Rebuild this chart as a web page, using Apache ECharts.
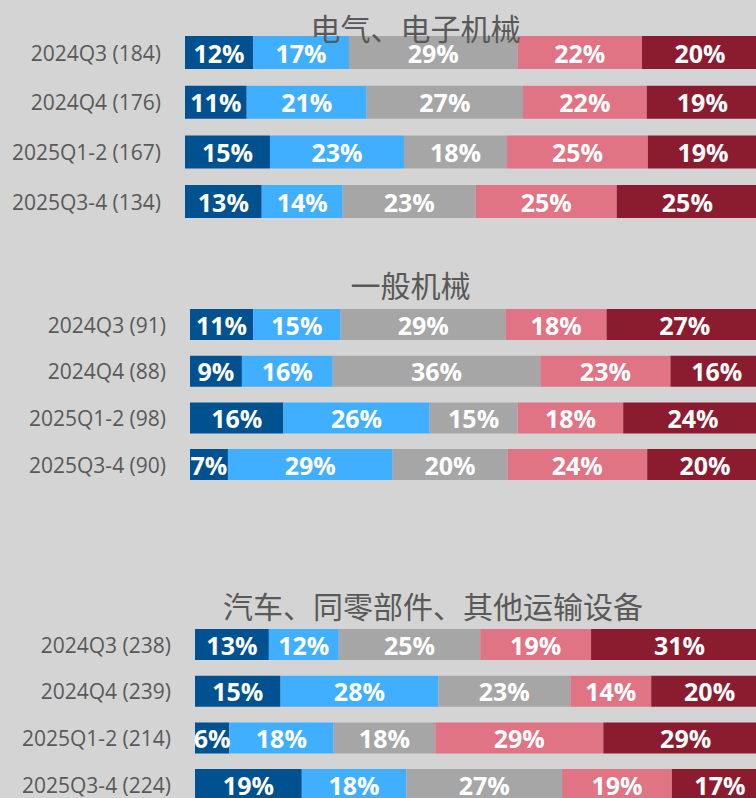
<!DOCTYPE html>
<html>
<head>
<meta charset="utf-8">
<script src="https://cdn.jsdelivr.net/npm/echarts@6/dist/echarts.min.js"></script>
<style>
  html, body { margin: 0; padding: 0; background: #d4d4d4; }
  #chart { width: 756px; height: 798px; }
</style>
</head>
<body>
<div id="chart"></div>
<script>
// ---- data (labels show rounded %) ----
const panelTitles = ['电气、电子机械', '一般机械', '汽车、同零部件、其他运输设备'];

const elecCategories = ['2024Q3 (184)', '2024Q4 (176)', '2025Q1-2 (167)', '2025Q3-4 (134)'];
const generalCategories = ['2024Q3 (91)', '2024Q4 (88)', '2025Q1-2 (98)', '2025Q3-4 (90)'];
const autoCategories = ['2024Q3 (238)', '2024Q4 (239)', '2025Q1-2 (214)', '2025Q3-4 (224)'];

const segmentNames = ['区分1', '区分2', '区分3', '区分4', '区分5'];

// each array = one segment, one value per category
const elecSeg1 = [11.87, 10.77, 14.83, 13.39];
const elecSeg2 = [16.75, 20.94, 23.39, 14.14];
const elecSeg3 = [29.44, 27.28, 17.98, 23.21];
const elecSeg4 = [21.69, 21.59, 24.6, 24.6];
const elecSeg5 = [20.25, 19.42, 19.2, 24.66];

const generalSeg1 = [11.0, 9.06, 16.3, 6.62];
const generalSeg2 = [15.3, 15.85, 25.5, 28.75];
const generalSeg3 = [28.8, 36.24, 15.4, 20.03];
const generalSeg4 = [17.6, 22.70, 18.4, 24.39];
const generalSeg5 = [27.3, 16.15, 24.4, 20.21];

const autoSeg1 = [12.89, 14.93, 5.98, 18.64];
const autoSeg2 = [12.2, 27.53, 18.19, 18.24];
const autoSeg3 = [24.69, 23.05, 17.77, 27.18];
const autoSeg4 = [19.34, 14.11, 29.32, 19.16];
const autoSeg5 = [30.88, 20.38, 28.74, 16.78];

// ---- styling ----
const segColors = ['#00518f', '#41afff', '#a6a6a6', '#e07384', '#8b1c30'];
const textGrey = '#595959';
const plotWidth = 573;

const panels = [
  { title: panelTitles[0], cats: elecCategories, segs: [elecSeg1, elecSeg2, elecSeg3, elecSeg4, elecSeg5],
    left: 185, top: 27.7, height: 198.7, barWidth: 33, titleX: 415.5, titleY: 27 },
  { title: panelTitles[1], cats: generalCategories, segs: [generalSeg1, generalSeg2, generalSeg3, generalSeg4, generalSeg5],
    left: 190, top: 301.2, height: 186.7, barWidth: 31, titleX: 410.5, titleY: 284 },
  { title: panelTitles[2], cats: autoCategories, segs: [autoSeg1, autoSeg2, autoSeg3, autoSeg4, autoSeg5],
    left: 195, top: 621.2, height: 186.7, barWidth: 31, titleX: 433, titleY: 605 }
];

const grid = [], xAxis = [], yAxis = [], series = [], graphic = [];
panels.forEach((p, i) => {
  grid.push({
    left: p.left, top: p.top, width: plotWidth, height: p.height,
    containLabel: false, outerBoundsMode: 'none'
  });
  xAxis.push({ type: 'value', gridIndex: i, min: 0, max: 100, show: false });
  yAxis.push({
    type: 'category', gridIndex: i, data: p.cats, inverse: true,
    axisLine: { show: false }, axisTick: { show: false }, splitLine: { show: false },
    axisLabel: { color: textGrey, fontSize: 21, fontFamily: '"Open Sans", sans-serif', margin: 24 }
  });
  p.segs.forEach((vals, k) => {
    series.push({
      type: 'bar', name: segmentNames[k], xAxisIndex: i, yAxisIndex: i, stack: 'panel' + i,
      data: vals, barWidth: p.barWidth,
      itemStyle: { color: segColors[k] },
      label: {
        show: true, position: 'inside', color: '#ffffff', fontWeight: 'bold', fontSize: 25,
        fontFamily: '"Open Sans", sans-serif',
        formatter: (d) => Math.round(d.value) + '%'
      },
      animation: false
    });
  });
  graphic.push({
    type: 'text', x: p.titleX, y: p.titleY, z: 100,
    style: { text: p.title, fill: textGrey, font: '30px "Noto Sans CJK SC"', align: 'center', verticalAlign: 'middle' }
  });
});

const chart = echarts.init(document.getElementById('chart'), null, { renderer: 'svg' });
chart.setOption({
  backgroundColor: '#d4d4d4',
  animation: false,
  grid, xAxis, yAxis, series, graphic
});
</script>
</body>
</html>
